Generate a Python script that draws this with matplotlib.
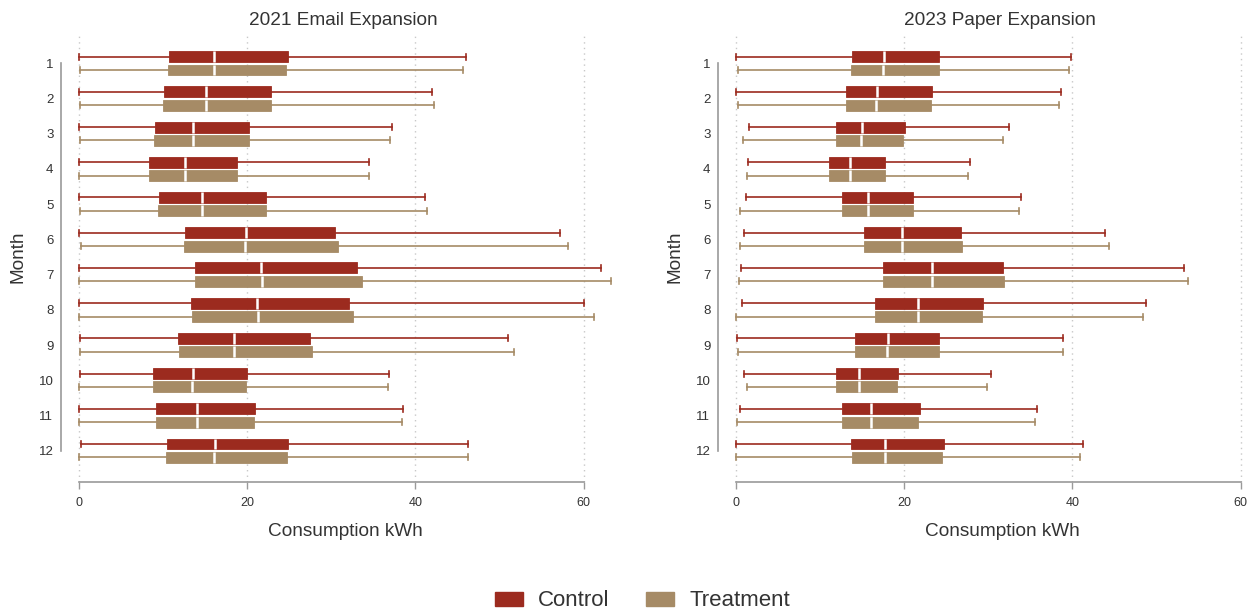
import matplotlib
matplotlib.use("Agg")
import matplotlib.pyplot as plt
import matplotlib.transforms as mtransforms
from matplotlib.patches import Patch

plt.rcParams["font.family"] = ["Liberation Sans", "DejaVu Sans"]

months = list(range(1, 13))
group_names = ["Control", "Treatment"]
panel_titles = ["2021 Email Expansion", "2023 Paper Expansion"]
x_ticks = [0, 20, 40, 60]

# 2021 email expansion: whisker low, Q1, median, Q3, whisker high (kWh)
email_ctrl_low = [0.0, 0.0, 0.0, 0.0, 0.0, 0.0, 0.0, 0.0, 0.15, 0.1, 0.05, 0.2]
email_ctrl_q1 = [10.7, 10.1, 9.0, 8.3, 9.55, 12.55, 13.75, 13.3, 11.8, 8.85, 9.15, 10.45]
email_ctrl_med = [16.1, 15.1, 13.6, 12.65, 14.65, 19.8, 21.7, 21.15, 18.4, 13.5, 14.0, 16.15]
email_ctrl_q3 = [24.85, 22.8, 20.25, 18.8, 22.2, 30.4, 33.1, 32.05, 27.5, 20.0, 20.9, 24.8]
email_ctrl_high = [46.0, 41.95, 37.2, 34.5, 41.1, 57.2, 62.05, 60.05, 51.0, 36.85, 38.55, 46.2]

email_trt_low = [0.1, 0.1, 0.1, 0.05, 0.1, 0.2, 0.0, 0.05, 0.15, 0.0, 0.05, 0.05]
email_trt_q1 = [10.55, 9.95, 8.9, 8.3, 9.45, 12.5, 13.75, 13.45, 11.85, 8.85, 9.15, 10.4]
email_trt_med = [16.0, 15.05, 13.5, 12.6, 14.65, 19.7, 21.8, 21.3, 18.45, 13.45, 14.0, 16.1]
email_trt_q3 = [24.65, 22.8, 20.2, 18.8, 22.25, 30.8, 33.6, 32.6, 27.75, 19.9, 20.8, 24.75]
email_trt_high = [45.7, 42.25, 37.0, 34.5, 41.35, 58.2, 63.25, 61.25, 51.7, 36.7, 38.45, 46.3]

# 2023 paper expansion
paper_ctrl_low = [0.0, 0.0, 1.5, 1.45, 1.2, 1.0, 0.6, 0.7, 0.15, 0.95, 0.45, 0.05]
paper_ctrl_q1 = [13.75, 13.05, 11.95, 11.1, 12.6, 15.2, 17.5, 16.5, 14.2, 11.95, 12.55, 13.65]
paper_ctrl_med = [17.55, 16.8, 15.0, 13.55, 15.7, 19.7, 23.35, 21.7, 18.05, 14.6, 16.1, 17.75]
paper_ctrl_q3 = [24.1, 23.3, 20.1, 17.75, 21.1, 26.7, 31.8, 29.4, 24.1, 19.25, 21.9, 24.7]
paper_ctrl_high = [39.8, 38.7, 32.45, 27.8, 33.85, 43.9, 53.3, 48.7, 38.9, 30.3, 35.85, 41.3]

paper_trt_low = [0.25, 0.25, 0.85, 1.35, 0.5, 0.5, 0.3, 0.05, 0.2, 1.25, 0.1, 0.05]
paper_trt_q1 = [13.7, 13.05, 11.95, 11.05, 12.6, 15.25, 17.5, 16.55, 14.2, 11.95, 12.6, 13.75]
paper_trt_med = [17.45, 16.7, 14.9, 13.5, 15.7, 19.7, 23.35, 21.6, 17.9, 14.6, 16.0, 17.7]
paper_trt_q3 = [24.1, 23.2, 19.9, 17.7, 21.05, 26.85, 31.85, 29.3, 24.1, 19.1, 21.7, 24.5]
paper_trt_high = [39.6, 38.45, 31.8, 27.6, 33.6, 44.3, 53.7, 48.4, 38.9, 29.85, 35.5, 40.9]

CTRL_COLOR = "#9C2B1F"
TRT_COLOR = "#A68B66"
TEXT_COLOR = "#333333"
SPINE_COLOR = "#9a9a9a"


def make_stats(low, q1, med, q3, high):
    return [
        {"whislo": lo, "q1": a, "med": m, "q3": b, "whishi": hi, "fliers": []}
        for lo, a, m, b, hi in zip(low, q1, med, q3, high)
    ]


panels = [
    (
        make_stats(email_ctrl_low, email_ctrl_q1, email_ctrl_med, email_ctrl_q3, email_ctrl_high),
        make_stats(email_trt_low, email_trt_q1, email_trt_med, email_trt_q3, email_trt_high),
    ),
    (
        make_stats(paper_ctrl_low, paper_ctrl_q1, paper_ctrl_med, paper_ctrl_q3, paper_ctrl_high),
        make_stats(paper_trt_low, paper_trt_q1, paper_trt_med, paper_trt_q3, paper_trt_high),
    ),
]

W, H = 1259, 616
fig = plt.figure(figsize=(W / 100, H / 100), dpi=100)

# per panel: pixel position of the left spine, x-range shown
layouts = [(61, (-2.14, 64.0)), (718, (-2.14, 62.0))]
px_per_unit = 8.41
top_px, bottom_px = 34, 481.5

offset = 0.19
box_h = 0.31

for (lpx, xlim), title, (ctrl, trt) in zip(layouts, panel_titles, panels):
    width_px = (xlim[1] - xlim[0]) * px_per_unit
    ax = fig.add_axes([lpx / W, 1 - bottom_px / H, width_px / W, (bottom_px - top_px) / H])
    for stats, shift, color in ((ctrl, -offset, CTRL_COLOR), (trt, offset, TRT_COLOR)):
        ax.bxp(
            stats,
            positions=[m + shift for m in months],
            widths=box_h,
            orientation="horizontal",
            patch_artist=True,
            showfliers=False,
            capwidths=0.17,
            boxprops=dict(facecolor=color, edgecolor=color, linewidth=0.6),
            medianprops=dict(color="white", linewidth=1.8),
            whiskerprops=dict(color=color, linewidth=1.2),
            capprops=dict(color=color, linewidth=1.2),
            manage_ticks=False,
        )
    ax.set_xlim(*xlim)
    ax.set_ylim(12.875, 0.168)
    ax.set_xticks(x_ticks)
    ax.set_yticks(months)
    ax.set_yticklabels([str(m) for m in months])
    ax.grid(axis="x", color="#c8c8c8", linestyle=(0, (1, 3)), linewidth=1.0)
    ax.grid(axis="y", visible=False)
    ax.set_axisbelow(True)
    for side in ("top", "right"):
        ax.spines[side].set_visible(False)
    ax.spines["left"].set_bounds(1, 12)
    ax.spines["bottom"].set_bounds(0, 60)
    for side in ("left", "bottom"):
        ax.spines[side].set_color(SPINE_COLOR)
        ax.spines[side].set_linewidth(1.2)
    ax.tick_params(axis="x", length=5, width=1.0, color=SPINE_COLOR, labelsize=9,
                   labelcolor=TEXT_COLOR, pad=6.5)
    ax.tick_params(axis="y", length=0, labelsize=9.5, labelcolor=TEXT_COLOR, pad=5.5)

    blend = mtransforms.blended_transform_factory(ax.transData, ax.transAxes)
    ax.text(31.4, 1.0201, title, transform=blend, ha="center", va="baseline",
            fontsize=13.7, color=TEXT_COLOR)
    ax.text(31.7, -0.1211, "Consumption kWh", transform=blend, ha="center",
            va="baseline", fontsize=13.7, color=TEXT_COLOR)
    ax.text(-7.25, 0.5017, "Month", transform=blend, ha="center",
            va="center", rotation=90, fontsize=13.7, color=TEXT_COLOR)

handles = [Patch(facecolor=CTRL_COLOR, edgecolor=CTRL_COLOR),
           Patch(facecolor=TRT_COLOR, edgecolor=TRT_COLOR)]
fig.legend(handles, group_names, loc="center", bbox_to_anchor=(642.5 / W, 1 - 601 / H),
           ncol=2, frameon=False, fontsize=16, handlelength=1.25, handleheight=0.6,
           handletextpad=0.68, columnspacing=1.65, borderpad=0, labelcolor=TEXT_COLOR)

fig.savefig("out.png", dpi=100)
